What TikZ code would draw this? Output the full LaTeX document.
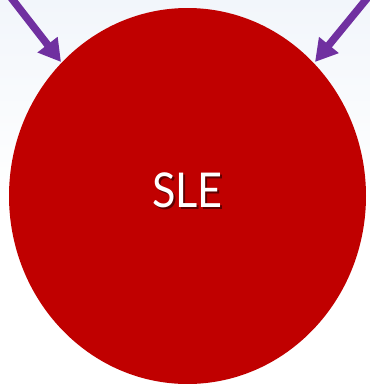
\documentclass[tikz,border=0pt]{standalone}
\usepackage{fontspec}
\setmainfont{Lato}
\definecolor{sleRed}{HTML}{C00000}
\definecolor{arrPurple}{HTML}{7030A0}
\definecolor{bgTop}{HTML}{F2F6FB}
\definecolor{shadowCol}{HTML}{600000}
\usetikzlibrary{shapes.geometric,arrows.meta}
\tikzset{
  arr/.style={draw=arrPurple, line width=7.5pt, -{Triangle[length=22pt,width=24pt]}},
  circ/.style={ellipse, fill=sleRed, minimum width=357pt, minimum height=376pt, inner sep=0pt},
  lbl/.style={font=\fontsize{48}{48}\selectfont, text=white, inner sep=0pt}
}
\begin{document}
\begin{tikzpicture}[x=1pt,y=-1pt]
\useasboundingbox (0,0) rectangle (370,384);
\shade[top color=bgTop, bottom color=white] (0,0) rectangle (370,200);
\fill[white] (0,200) rectangle (370,384);
\node[circ] (c) at (187.5,196) {};
\node[lbl, xscale=0.9] (t) at (187.5,191) {\rlap{\kern2pt\raisebox{-2pt}{\textcolor{shadowCol}{SLE}}}SLE};
\coordinate (la) at (9,-5);
\coordinate (ra) at (369,-4);
\coordinate (lt) at (61,62);
\coordinate (rt) at (315,62);
\draw[arr] (la) -- (lt);
\draw[arr] (ra) -- (rt);
\end{tikzpicture}
\end{document}
